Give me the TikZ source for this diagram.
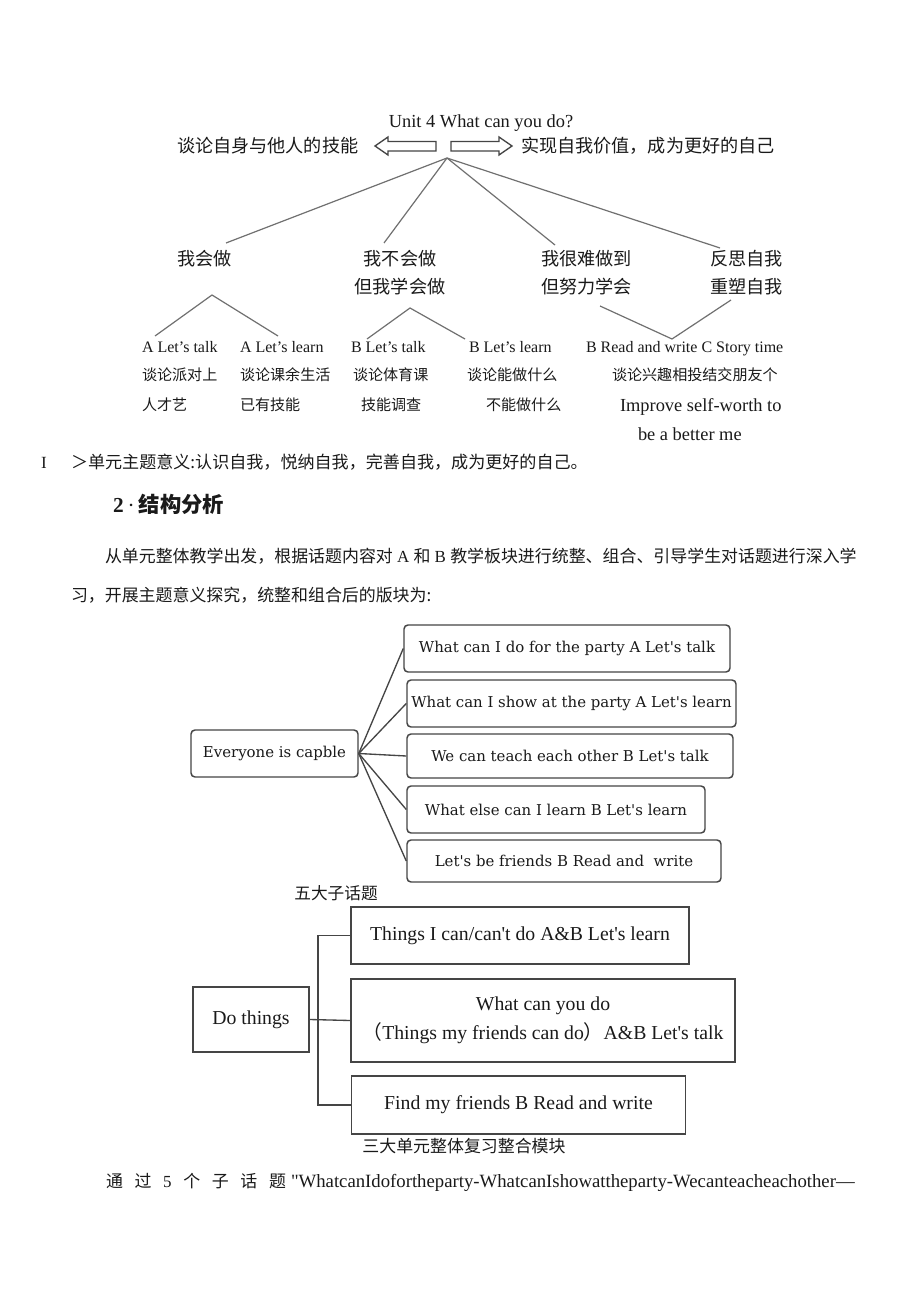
\documentclass[tikz,border=0pt]{standalone}
\usepackage{fontspec}
\setmainfont{Liberation Serif}
\newfontfamily\tnr{Liberation Serif}
\newfontfamily\cjk{Noto Sans CJK SC}
\newfontfamily\dvs{DejaVu Serif}
\newcommand\fsz[1]{\fontsize{#1}{#1}\selectfont}
\definecolor{ink}{HTML}{1A1A1A}
\definecolor{lgray}{HTML}{707070}
\definecolor{bgray}{HTML}{454545}
\begin{document}
\begin{tikzpicture}[x=0.75pt,y=-0.75pt,
  txt/.style={inner sep=0pt,outer sep=0pt,text=ink,anchor=base west},
  ctxt/.style={inner sep=0pt,outer sep=0pt,text=ink,anchor=base},
  treeline/.style={draw=lgray,line width=0.9pt},
  rbox/.style={draw=bgray,line width=1.1pt,rounded corners=3pt,inner sep=0pt,text=ink,font=\dvs\fsz{11.2pt}},
  sbox/.style={draw=bgray,line width=1.1pt,inner sep=0pt,text=ink,font=\tnr\fsz{14.8pt}},
  conn/.style={draw=bgray,line width=1pt},
  hollowarrow/.style={draw=bgray,line width=1pt,fill=white}]
\useasboundingbox (0,0) rectangle (920,1301);
\fill[white] (0,0) rectangle (920,1301);

% ---------- top concept tree ----------
\node[ctxt,font=\fsz{13.8pt}] (unit) at (481,128) {Unit 4 What can you do?};
\node[txt,font=\cjk\fsz{13.6pt}] (lefttxt) at (177,153) {谈论自身与他人的技能};
\node[txt,font=\cjk\fsz{13.6pt}] (righttxt) at (521,153) {实现自我价值，成为更好的自己};
\draw[hollowarrow] (375,146) -- (388,137) -- (388,141.5) -- (436,141.5) -- (436,151) -- (388,151) -- (388,155) -- cycle;
\draw[hollowarrow] (512,146) -- (499,137) -- (499,141.5) -- (451,141.5) -- (451,151) -- (499,151) -- (499,155) -- cycle;
\coordinate (apex) at (447,158);

\node[txt,font=\cjk\fsz{13.6pt}] (k1) at (177,266) {我会做};
\node[ctxt,font=\cjk\fsz{13.6pt}] (k2a) at (400,266) {我不会做};
\node[ctxt,font=\cjk\fsz{13.6pt}] (k2b) at (400,294) {但我学会做};
\node[txt,font=\cjk\fsz{13.6pt}] (k3a) at (541,266) {我很难做到};
\node[txt,font=\cjk\fsz{13.6pt}] (k3b) at (541,294) {但努力学会};
\node[txt,font=\cjk\fsz{13.6pt}] (k4a) at (710,266) {反思自我};
\node[txt,font=\cjk\fsz{13.6pt}] (k4b) at (710,294) {重塑自我};
\coordinate (e1) at (226,243);
\coordinate (e2) at (384,243);
\coordinate (e3) at (555,245);
\coordinate (e4) at (720,248);
\draw[treeline] (apex) -- (e1);
\draw[treeline] (apex) -- (e2);
\draw[treeline] (apex) -- (e3);
\draw[treeline] (apex) -- (e4);

% sub trees
\coordinate (s1) at (212,295);
\coordinate (s1l) at (155,336);
\coordinate (s1r) at (278,336);
\draw[treeline] (s1l) -- (s1) -- (s1r);
\coordinate (s2) at (410,308);
\coordinate (s2l) at (367,339);
\coordinate (s2r) at (465,339);
\draw[treeline] (s2l) -- (s2) -- (s2r);
\coordinate (s3l) at (600,306);
\coordinate (s3) at (672,339);
\coordinate (s3r) at (731,300);
\draw[treeline] (s3l) -- (s3) -- (s3r);

\node[txt,font=\fsz{12pt}] (l1) at (142,353) {A Let’s talk};
\node[txt,font=\fsz{12pt}] (l2) at (240,353) {A Let’s learn};
\node[txt,font=\fsz{12pt}] (l3) at (351,353) {B Let’s talk};
\node[txt,font=\fsz{12pt}] (l4) at (469,353) {B Let’s learn};
\node[txt,font=\fsz{12pt}] (l5) at (586,353) {B Read and write C Story time};

\node[txt,font=\cjk\fsz{11.3pt}] (c1) at (142,380) {谈论派对上};
\node[txt,font=\cjk\fsz{11.3pt}] (c2) at (240,380) {谈论课余生活};
\node[txt,font=\cjk\fsz{11.3pt}] (c3) at (353,380) {谈论体育课};
\node[txt,font=\cjk\fsz{11.3pt}] (c4) at (467,380) {谈论能做什么};
\node[txt,font=\cjk\fsz{11.3pt}] (c5) at (612,380) {谈论兴趣相投结交朋友个};

\node[txt,font=\cjk\fsz{11.3pt}] (d1) at (142,410) {人才艺};
\node[txt,font=\cjk\fsz{11.3pt}] (d2) at (240,410) {已有技能};
\node[txt,font=\cjk\fsz{11.3pt}] (d3) at (361,410) {技能调查};
\node[txt,font=\cjk\fsz{11.3pt}] (d4) at (486,410) {不能做什么};
\node[txt,font=\fsz{13.8pt}] (d5) at (620,411) {Improve self-worth to};
\node[txt,font=\fsz{13.8pt}] (d6) at (638,440) {be a better me};

% ---------- text lines ----------
\node[txt,font=\fsz{12.8pt}] (bar) at (41,468) {I};
\node[txt,font=\cjk\fsz{12.8pt}] (meaning) at (71,468) {＞单元主题意义:认识自我，悦纳自我，完善自我，成为更好的自己。};
\node[txt,font=\fsz{16pt}] (title) at (113,512) {\textbf{2}\hspace{3pt}·\hspace{3pt}{\cjk\bfseries 结构分析}};
\node[txt,font=\cjk\fsz{12.7pt}] (para1) at (105,562) {从单元整体教学出发，根据话题内容对{\rmfamily\ A }和{\rmfamily\ B }教学板块进行统整、组合、引导学生对话题进行深入学};
\node[txt,font=\cjk\fsz{12.7pt}] (para2) at (71,601) {习，开展主题意义探究，统整和组合后的版块为:};

% ---------- middle diagram ----------
\node[rbox,minimum width=125.25pt,minimum height=35.25pt] (E) at (274.5,753.5) {Everyone is capble};
\node[rbox,minimum width=244.5pt,minimum height=35.25pt] (b1) at (567,648.5) {What can I do for the party A Let's talk};
\node[rbox,minimum width=246.75pt,minimum height=35.25pt] (b2) at (571.5,703.5) {What can I show at the party A Let's learn};
\node[rbox,minimum width=244.5pt,minimum height=33pt] (b3) at (570,756) {We can teach each other B Let's talk};
\node[rbox,minimum width=223.5pt,minimum height=35.25pt] (b4) at (556,809.5) {What else can I learn B Let's learn};
\node[rbox,minimum width=235.5pt,minimum height=31.5pt] (b5) at (564,861) {Let's be friends B Read and\ \ write};
\foreach \b in {b1,b2,b3,b4,b5} \draw[conn] (E.east) -- (\b.west);
\node[ctxt,font=\cjk\fsz{12.5pt}] (cap1) at (336,899) {五大子话题};

% ---------- bottom diagram ----------
\node[sbox,minimum width=87pt,minimum height=48.75pt] (D) at (251,1019.5) {Do things};
\node[sbox,minimum width=253.5pt,minimum height=42.75pt] (t1) at (520,935.5) {Things I can/can't do A\&B Let's learn};
\node[sbox,minimum width=288pt,minimum height=62.25pt,align=center] (t2) at (543,1020.5) {What can you do\\[5pt]{\cjk （}Things my friends can do{\cjk ）}A\&B Let's talk};
\node[sbox,minimum width=250.5pt,minimum height=43.5pt] (t3) at (518.5,1105) {Find my friends B Read and write};
\coordinate (trunk) at (318,1020);
\draw[conn] (D.east) -- (t2.west);
\draw[conn] (t1.west) -- (t1.west -| trunk) -- (t3.west -| trunk) -- (t3.west);
\node[ctxt,font=\cjk\fsz{12.7pt}] (cap2) at (464,1152) {三大单元整体复习整合模块};

% ---------- last line ----------
\node[txt,font=\cjk\fsz{12.7pt}] (last1) at (106,1187) {\makebox[135pt][s]{通 过 {\rmfamily 5} 个 子 话 题}};
\node[txt,font=\tnr\fsz{14.05pt}] (last2) at (291,1187) {"WhatcanIdofortheparty-WhatcanIshowattheparty-Wecanteacheachother—};
\end{tikzpicture}
\end{document}
